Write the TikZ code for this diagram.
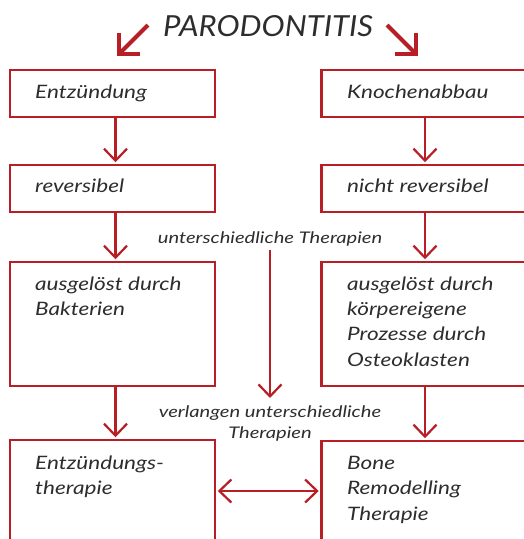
\documentclass[tikz,border=0pt]{standalone}
\usepackage{fontspec}
\setmainfont{Lato}[FakeStretch=1.22]
\newfontfamily\titlefont{Lato}[FakeStretch=1.07]
\newfontfamily\smallfont{Lato}[FakeStretch=1.26]
\usetikzlibrary{arrows.meta}
\definecolor{pred}{RGB}{183,30,38}
\definecolor{ptext}{RGB}{45,45,45}
\tikzset{
  box/.style={draw=pred, line width=2.5pt, rectangle, minimum width=205pt, inner sep=0pt},
  boxtext/.style={anchor=base west, inner sep=0pt, text=ptext, font=\fontsize{18.5}{22}\selectfont\itshape},
  smalltext/.style={anchor=base, inner sep=0pt, text=ptext, font=\smallfont\fontsize{16}{18}\selectfont\itshape},
  arr/.style={draw=pred, line width=2.2pt, -{Straight Barb[length=12pt,width=23pt]}},
  arrtwo/.style={draw=pred, line width=2.2pt, {Straight Barb[length=12pt,width=23pt]}-{Straight Barb[length=12pt,width=23pt]}},
  bigarr/.style={draw=pred, line width=4pt, -{Straight Barb[length=15pt,width=30pt]}},
}
\begin{document}
\begin{tikzpicture}[x=1pt,y=-1pt]
\useasboundingbox (0,0) rectangle (524,539);
\clip (0,0) rectangle (524,539);
% title
\node[inner sep=0pt, text=ptext, font=\titlefont\fontsize{29}{34}\selectfont\itshape, anchor=base] (title) at (268,36) {PARODONTITIS};
\coordinate (ls) at (148,25);
\coordinate (le) at (117,56);
\coordinate (rs) at (387,25);
\coordinate (re) at (418,56);
\draw[bigarr] (ls) -- (le);
\draw[bigarr] (rs) -- (re);
% left column boxes
\node[box, minimum height=47pt] (e1) at (112.5,93.5) {};
\node[box, minimum height=47pt] (e2) at (112.5,188.5) {};
\node[box, minimum height=124pt] (e3) at (112.5,324) {};
\node[box, minimum height=120pt] (e4) at (112.5,500) {};
% right column boxes
\node[box, minimum height=47pt] (k1) at (424,93.5) {};
\node[box, minimum height=47pt] (k2) at (424,188.5) {};
\node[box, minimum height=124pt] (k3) at (424,324) {};
\node[box, minimum height=120pt] (k4) at (424,501) {};
% texts
\node[boxtext] (te1) at (35,98) {Entzündung};
\node[boxtext] (te2) at (35,192) {reversibel};
\node[boxtext] (te3a) at (35,290) {ausgelöst durch};
\node[boxtext] (te3b) at (35,315.5) {Bakterien};
\node[boxtext] (te4a) at (35,469) {Entzündungs-};
\node[boxtext] (te4b) at (35,494.5) {therapie};
\node[boxtext] (tk1) at (347,98) {Knochenabbau};
\node[boxtext] (tk2) at (347,192) {nicht reversibel};
\node[boxtext] (tk3a) at (347,290) {ausgelöst durch};
\node[boxtext] (tk3b) at (347,315.3) {körpereigene};
\node[boxtext] (tk3c) at (347,340.6) {Prozesse durch};
\node[boxtext] (tk3d) at (347,366) {Osteoklasten};
\node[boxtext] (tk4a) at (347,469) {Bone};
\node[boxtext] (tk4b) at (347,494.5) {Remodelling};
\node[boxtext] (tk4c) at (347,520) {Therapie};
\node[smalltext] (m1) at (270,243) {unterschiedliche Therapien};
\node[smalltext] (m2) at (270,417) {verlangen unterschiedliche};
\node[smalltext] (m3) at (270,438) {Therapien};
% connectors
\draw[arr, shorten >=1.5pt] ([xshift=3pt]e1.south) -- ([xshift=3pt]e2.north);
\draw[arr, shorten >=1.5pt] ([xshift=3pt]e2.south) -- ([xshift=3pt]e3.north);
\draw[arr, shorten >=1.5pt] ([xshift=3pt]e3.south) -- ([xshift=3pt]e4.north);
\draw[arr, shorten >=1.5pt] ([xshift=1pt]k1.south) -- ([xshift=1pt]k2.north);
\draw[arr, shorten >=1.5pt] ([xshift=1pt]k2.south) -- ([xshift=1pt]k3.north);
\draw[arr, shorten >=1.5pt] ([xshift=1pt]k3.south) -- ([xshift=1pt]k4.north);
\coordinate (c1) at (270,250);
\coordinate (c2) at (270,398);
\draw[arr] (c1) -- (c2);
\draw[arrtwo, shorten <=1.5pt, shorten >=1.5pt] ([yshift=9pt]e4.east) -- ([yshift=9pt]e4.east -| k4.west);
\end{tikzpicture}
\end{document}
